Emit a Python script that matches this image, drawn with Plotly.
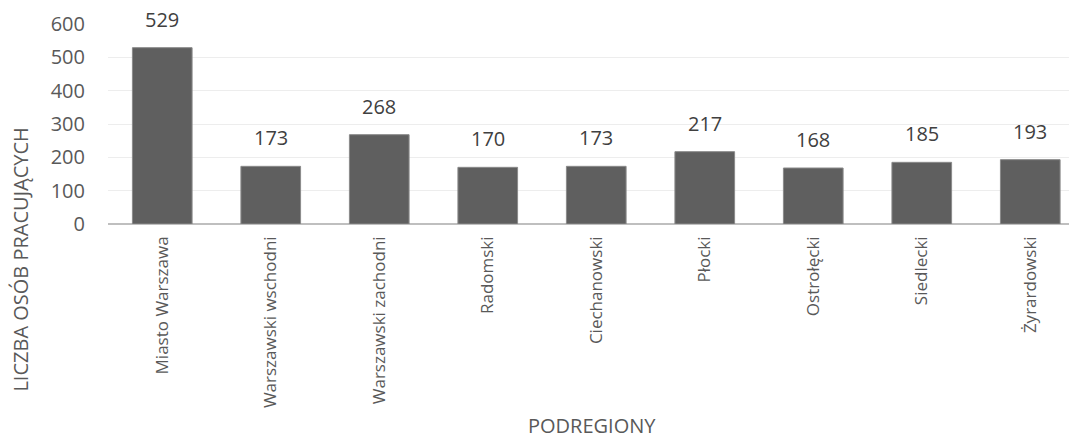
import plotly.graph_objects as go

categories = ["Miasto Warszawa", "Warszawski wschodni", "Warszawski zachodni", "Radomski",
              "Ciechanowski", "Płocki", "Ostrołęcki", "Siedlecki", "Żyrardowski"]
values = [529, 173, 268, 170, 173, 217, 168, 185, 193]
y_ticks = [0, 100, 200, 300, 400, 500, 600]

FONT = "Open Sans"
GREY = "#595959"

fig = go.Figure()
fig.add_trace(go.Bar(
    x=categories, y=values,
    marker=dict(color="#5f5f5f", line=dict(color="#8a8a8a", width=1)),
    width=0.55,
    hoverinfo="x+y",
))

for c, v in zip(categories, values):
    fig.add_annotation(x=c, y=v, text=str(v), showarrow=False, yanchor="bottom",
                       yshift=13, font=dict(family=FONT, size=20, color="#404040"))

fig.add_annotation(xref="paper", yref="paper", x=-0.092, xanchor="center",
                   y=-0.18, yanchor="middle", textangle=-90, showarrow=False,
                   text="LICZBA OSÓB PRACUJĄCYCH",
                   font=dict(family=FONT, size=20, color=GREY))
fig.add_annotation(xref="paper", yref="paper", x=0.504, xanchor="center",
                   y=-1.01, yanchor="middle", showarrow=False,
                   text="PODREGIONY",
                   font=dict(family=FONT, size=20, color=GREY))

fig.update_layout(
    width=1069, height=442,
    margin=dict(l=108, r=0, t=24, b=218),
    paper_bgcolor="white", plot_bgcolor="white",
    showlegend=False,
    font=dict(family=FONT, color=GREY),
    xaxis=dict(range=[-0.5, 8.357], tickangle=-90, showgrid=False,
               tickfont=dict(family=FONT, size=17, color=GREY),
               ticks="", showline=False, ticklabelstandoff=8, automargin=False),
    yaxis=dict(range=[0, 600], tickvals=y_ticks, showgrid=True, gridcolor="#ededed",
               gridwidth=1, zeroline=True, zerolinecolor="#bfbfbf", zerolinewidth=2,
               tickfont=dict(family=FONT, size=20, color=GREY), ticks="",
               ticklabelstandoff=22, showline=False),
)

fig.write_html("out.html", config={"displayModeBar": False},
               post_script="document.body.style.margin='0';document.body.style.overflow='hidden';")
